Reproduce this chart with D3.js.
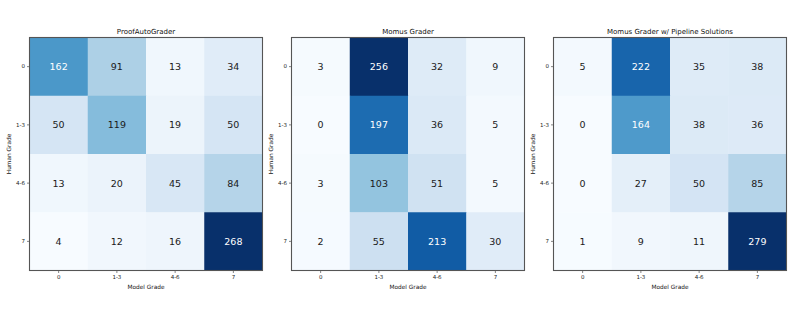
<!DOCTYPE html>
<html>
<head>
<meta charset="utf-8">
<script src="https://cdn.jsdelivr.net/npm/d3@7"></script>
<style>
body { margin: 0; background: #fff; }
text { font-family: "DejaVu Sans", sans-serif; }
</style>
</head>
<body>
<div id="vis"></div>
<script>
// grade bins (same for both axes)
var grades = ["0", "1-3", "4-6", "7"];

var titles = ["ProofAutoGrader", "Momus Grader", "Momus Grader w/ Pipeline Solutions"];

// rows = human grade, columns = model grade
var proofAuto = [
    [162, 91, 13, 34],
    [50, 119, 19, 50],
    [13, 20, 45, 84],
    [4, 12, 16, 268]
];
var momus = [
    [3, 256, 32, 9],
    [0, 197, 36, 5],
    [3, 103, 51, 5],
    [2, 55, 213, 30]
];
var momusPipeline = [
    [5, 222, 35, 38],
    [0, 164, 38, 36],
    [0, 27, 50, 85],
    [1, 9, 11, 279]
];

var matrices = [proofAuto, momus, momusPipeline];

var width = 793, height = 309;
var size = 233;
var lefts = [29.5, 291.5, 553.5];
var top0 = 37.5;

var svg = d3.select("#vis")
    .append("svg")
    .attr("width", width)
    .attr("height", height);

var blues = d3.schemeBlues[9];

matrices.forEach(function (m, i) {
    var g = svg.append("g")
        .attr("transform", "translate(" + lefts[i] + "," + top0 + ")");

    var x = d3.scaleBand().domain(grades).range([0, size]);
    var y = d3.scaleBand().domain(grades).range([0, size]);

    var flat = [];
    m.forEach(function (row, r) {
        row.forEach(function (v, c) {
            flat.push({ row: grades[r], col: grades[c], value: v });
        });
    });

    // matplotlib-like Blues, normalised per panel
    var lo = d3.min(flat, function (d) { return d.value; });
    var hi = d3.max(flat, function (d) { return d.value; });
    var colour = d3.scaleLinear()
        .domain(d3.range(9).map(function (k) { return lo + (hi - lo) * k / 8; }))
        .range(blues);
    var thresh = (lo + hi) / 2;

    g.selectAll(".cell")
        .data(flat)
        .enter()
        .append("rect")
        .attr("class", "cell")
        .attr("x", function (d) { return x(d.col); })
        .attr("y", function (d) { return y(d.row); })
        .attr("width", x.bandwidth() + 0.5)
        .attr("height", y.bandwidth() + 0.5)
        .attr("fill", function (d) { return colour(d.value); });

    g.selectAll(".val")
        .data(flat)
        .enter()
        .append("text")
        .attr("class", "val")
        .attr("x", function (d) { return x(d.col) + x.bandwidth() / 2; })
        .attr("y", function (d) { return y(d.row) + y.bandwidth() / 2; })
        .attr("text-anchor", "middle")
        .attr("dominant-baseline", "central")
        .style("font-size", "9.5px")
        .attr("fill", function (d) { return d.value > thresh ? "#ffffff" : "#1a1a1a"; })
        .text(function (d) { return d.value; });

    var xAxis = d3.axisBottom(x).tickSize(2.5).tickPadding(2);
    var yAxis = d3.axisLeft(y).tickSize(2.5).tickPadding(2);

    g.append("g")
        .attr("class", "x axis")
        .attr("transform", "translate(0," + size + ")")
        .call(xAxis);
    g.append("g")
        .attr("class", "y axis")
        .call(yAxis);

    g.selectAll(".axis path").remove();
    g.selectAll(".axis text").style("font-size", "5.5px").attr("fill", "#222");
    g.selectAll(".axis line").attr("stroke", "#333").attr("stroke-width", 0.6);

    g.append("rect")
        .attr("width", size)
        .attr("height", size)
        .attr("fill", "none")
        .attr("stroke", "#555")
        .attr("stroke-width", 1.1);

    g.append("text")
        .attr("x", size / 2)
        .attr("y", -3.5)
        .attr("text-anchor", "middle")
        .style("font-size", "7px")
        .attr("fill", "#111")
        .text(titles[i]);

    g.append("text")
        .attr("x", size / 2)
        .attr("y", size + 18)
        .attr("text-anchor", "middle")
        .style("font-size", "5.8px")
        .attr("fill", "#111")
        .text("Model Grade");

    g.append("text")
        .attr("transform", "translate(-19," + (size / 2) + ") rotate(-90)")
        .attr("text-anchor", "middle")
        .style("font-size", "5.8px")
        .attr("fill", "#111")
        .text("Human Grade");
});
</script>
</body>
</html>
